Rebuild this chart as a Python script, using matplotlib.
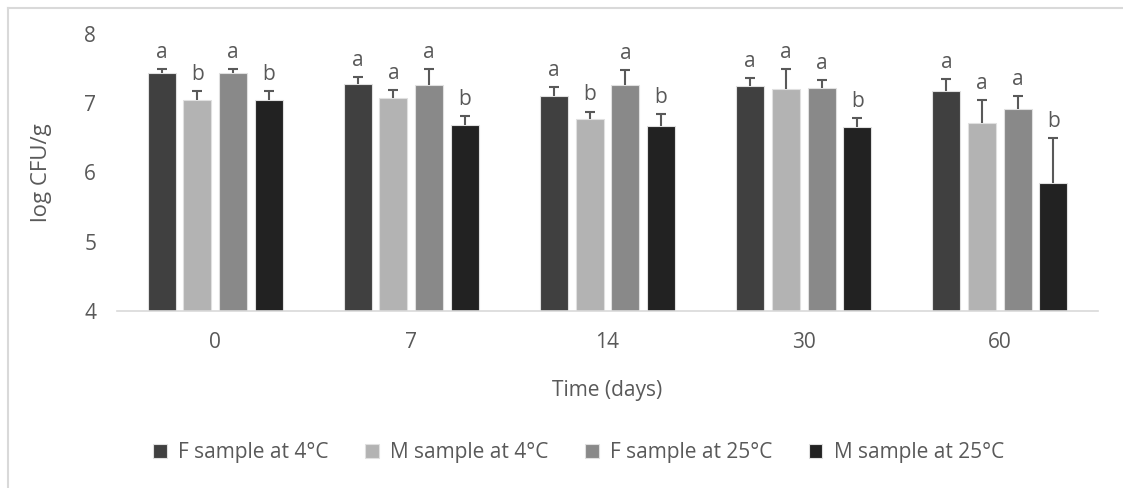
import numpy as np
import matplotlib
matplotlib.use("Agg")
import matplotlib.pyplot as plt
from matplotlib.lines import Line2D

plt.rcParams['font.family'] = ['Open Sans', 'DejaVu Sans']

# Data
days = ["0", "7", "14", "30", "60"]
series = ["F sample at 4°C", "M sample at 4°C", "F sample at 25°C", "M sample at 25°C"]
f4 = [7.43, 7.28, 7.10, 7.25, 7.17]
m4 = [7.05, 7.07, 6.77, 7.21, 6.72]
f25 = [7.43, 7.27, 7.26, 7.22, 6.92]
m25 = [7.05, 6.69, 6.67, 6.65, 5.85]
f4_err = [0.07, 0.10, 0.14, 0.11, 0.18]
m4_err = [0.13, 0.12, 0.11, 0.28, 0.32]
f25_err = [0.07, 0.22, 0.22, 0.11, 0.19]
m25_err = [0.13, 0.13, 0.17, 0.14, 0.65]
f4_let = ["a", "a", "a", "a", "a"]
m4_let = ["b", "a", "b", "a", "a"]
f25_let = ["a", "a", "a", "a", "a"]
m25_let = ["b", "b", "b", "b", "b"]

colors = ["#404040", "#b3b3b3", "#898989", "#222222"]
txt = "#595959"

fig = plt.figure(figsize=(11.23, 4.88), dpi=100)
ax = fig.add_axes([117 / 1123, 1 - 311 / 488, 981 / 1123, 277 / 488])

x = np.arange(len(days))
step = 0.182
width = 0.143
vals = [f4, m4, f25, m25]
errs = [f4_err, m4_err, f25_err, m25_err]
lets = [f4_let, m4_let, f25_let, m25_let]

for i in range(4):
    pos = x + (i - 1.5) * step
    ax.bar(pos, np.array(vals[i]) - 4, width, bottom=4, color=colors[i],
           edgecolor="#e0e0e0", linewidth=0.8, label=series[i], zorder=2)
    eb = ax.errorbar(pos, vals[i], yerr=[np.zeros(5), errs[i]], fmt="none",
                     ecolor="#595959", elinewidth=1.5, capsize=3.8, capthick=1.5, zorder=3)
    # plus-only error bars: hide the lower caps
    eb[1][0].set_visible(False)
    for p, v, e, l in zip(pos, vals[i], errs[i], lets[i]):
        ax.annotate(l, (p, v + e), xytext=(0, 8), textcoords="offset points",
                    ha="center", va="baseline", fontsize=15, color=txt)

ax.set_ylim(4, 8)
ax.set_xlim(-0.5, 4.5)
ax.set_yticks([4, 5, 6, 7, 8])
ax.set_xticks(x)
ax.set_xticklabels(days)
ax.tick_params(axis="both", length=0, labelsize=15, labelcolor=txt)
ax.tick_params(axis="x", pad=15)
ax.tick_params(axis="y", pad=15)
for s in ["top", "right", "left"]:
    ax.spines[s].set_visible(False)
ax.spines["bottom"].set_color("#d9d9d9")
ax.spines["bottom"].set_linewidth(1.2)

ax.set_ylabel("log CFU/g", fontsize=16, color=txt)
ax.yaxis.set_label_coords(-0.066, 0.5)
ax.set_xlabel("Time (days)", fontsize=15, color=txt)
ax.xaxis.set_label_coords(0.5, -0.25)

fig.legend(loc="center", bbox_to_anchor=(0.515, 0.072), ncol=4, frameon=False,
           fontsize=15, labelcolor=txt, handlelength=0.67, handleheight=0.67,
           handletextpad=0.53, columnspacing=1.75)

# chart frame (left and top edges visible)
fig.add_artist(Line2D([8 / 1123, 8 / 1123], [0, 1 - 8 / 488], color="#d9d9d9", lw=1.5))
fig.add_artist(Line2D([8 / 1123, 1], [1 - 8 / 488, 1 - 8 / 488], color="#d9d9d9", lw=1.5))

fig.savefig("out.png", dpi=100)
